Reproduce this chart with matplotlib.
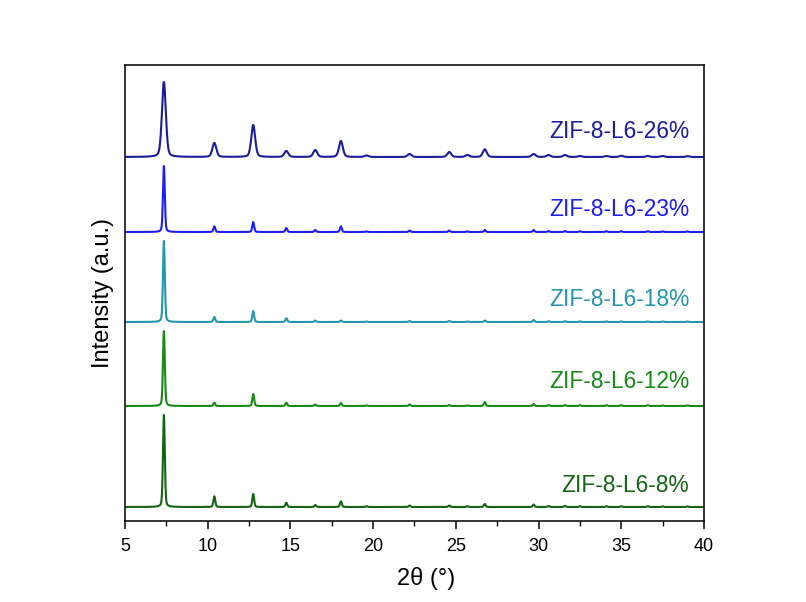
import numpy as np
import matplotlib
matplotlib.use("Agg")
import matplotlib.pyplot as plt
from matplotlib.ticker import MultipleLocator
from matplotlib.transforms import blended_transform_factory

plt.rcParams['font.family'] = ['Liberation Sans', 'DejaVu Sans']

# ---- data ----
samples = ["ZIF-8-L6-8%", "ZIF-8-L6-12%", "ZIF-8-L6-18%", "ZIF-8-L6-23%", "ZIF-8-L6-26%"]
colors = ["#146414", "#178a17", "#2596ab", "#1e1ef0", "#1c1c9c"]
offsets = [14, 115, 199, 289, 364]
fwhm = [0.13, 0.13, 0.13, 0.13, 0.28]

peak_pos = [7.35, 10.4, 12.75, 14.75, 16.5, 18.05, 19.6, 22.2, 24.6, 25.7, 26.75,
            29.7, 30.6, 31.6, 32.5, 34.1, 35.0, 36.6, 37.5, 39.0]
heights_8 = [92, 10.7, 13, 4.3, 2.0, 5.7, 0.8, 1.5, 1.5, 0.8, 3.0,
             2.5, 1.0, 1.2, 0.8, 0.8, 0.8, 0.8, 0.6, 0.6]
heights_12 = [75, 3.3, 12, 3.3, 1.5, 3.0, 0.6, 1.5, 1.0, 0.6, 4.0,
              2.0, 1.0, 1.0, 0.8, 0.8, 0.8, 0.8, 0.6, 0.6]
heights_18 = [81, 5.0, 11, 3.7, 1.5, 1.5, 0.5, 1.0, 1.0, 0.5, 1.5,
              2.0, 0.8, 0.8, 0.6, 0.6, 0.6, 0.6, 0.5, 0.5]
heights_23 = [66, 5.7, 10, 4.0, 2.0, 5.7, 0.6, 1.5, 1.5, 0.6, 2.0,
              2.0, 1.0, 1.0, 0.8, 0.8, 0.8, 0.8, 0.6, 0.6]
heights_26 = [75, 14, 32, 6.0, 7.0, 16, 1.5, 3.0, 5.0, 2.0, 7.7,
              3.0, 2.0, 2.0, 1.0, 1.0, 1.2, 1.0, 1.0, 0.8]
all_heights = [heights_8, heights_12, heights_18, heights_23, heights_26]

label_y = [485, 381, 300, 210, 131]  # pixel rows of the sample labels

# ---- figure ----
W, H = 806, 602
fig = plt.figure(figsize=(W / 100, H / 100), dpi=100)
L, R, T, B = 125, 704, 65, 521
ax = fig.add_axes([L / W, 1 - B / H, (R - L) / W, (B - T) / H])

theta = np.arange(5, 40.001, 0.01)
eta = 0.3  # Lorentzian fraction of the pseudo-Voigt profile
for name, col, off, w, hts in zip(samples, colors, offsets, fwhm, all_heights):
    y = np.full_like(theta, float(off))
    g = w / 2
    s = w / 2.3548
    for p, h in zip(peak_pos, hts):
        lor = g**2 / ((theta - p)**2 + g**2)
        gau = np.exp(-0.5 * ((theta - p) / s)**2)
        y += h * (eta * lor + (1 - eta) * gau)
    ax.plot(theta, y, color=col, lw=1.5)

tr = blended_transform_factory(fig.transFigure, fig.transFigure)
for name, col, ly in zip(samples, colors, label_y):
    ax.text(689 / W, 1 - ly / H, name, color=col, fontsize=16.4, ha='right',
            va='center', transform=tr)

ax.set_xlim(5, 40)
ax.set_ylim(0, B - T)
ax.xaxis.set_major_locator(MultipleLocator(5))
ax.xaxis.set_minor_locator(MultipleLocator(2.5))
ax.tick_params(axis='x', which='major', direction='out', length=6, width=1.1,
               labelsize=13, pad=6, top=False)
ax.tick_params(axis='x', which='minor', direction='out', length=3.5, width=1.0, top=False)
ax.set_yticks([])
for s in ax.spines.values():
    s.set_linewidth(1.1)

ax.set_xlabel("2θ (°)", fontsize=17, va='center')
ax.xaxis.set_label_coords((426 - L) / (R - L), -(578 - B) / (B - T))
ax.set_ylabel("Intensity (a.u.)", fontsize=17, labelpad=8)

fig.savefig("out.png", dpi=100)
